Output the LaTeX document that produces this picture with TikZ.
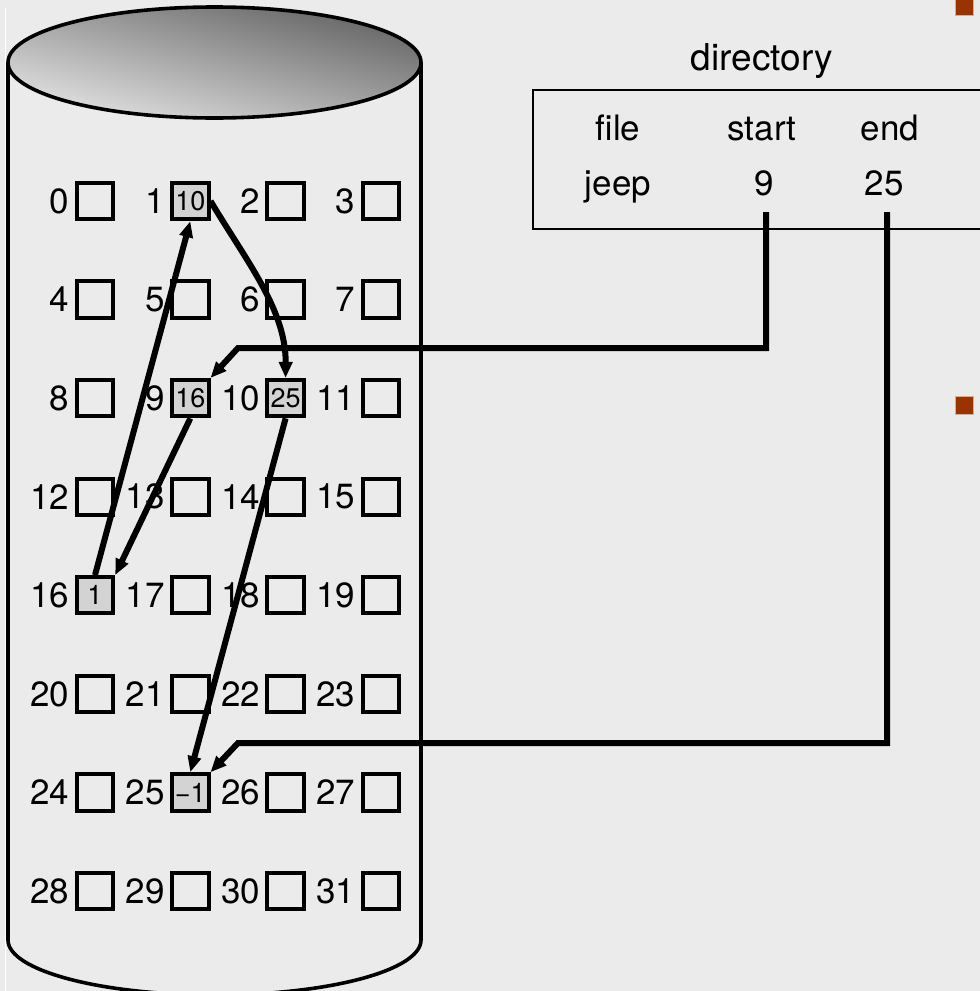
\documentclass[tikz,border=0pt]{standalone}
\usepackage{fontspec}
\setmainfont{TeX Gyre Heros}
\usetikzlibrary{arrows.meta}
\definecolor{pagegray}{RGB}{235,235,235}
\definecolor{blockgray}{RGB}{211,211,211}
\definecolor{diskdark}{RGB}{100,100,100}
\definecolor{disklight}{RGB}{226,226,226}
\definecolor{bulletred}{RGB}{153,51,0}
\newcommand{\minusone}{\char"2212 1}
\tikzset{
	block/.style={draw, line width=2pt, minimum size=18.2pt, inner sep=0pt},
	usedblock/.style={block, fill=blockgray, font=\fontsize{13.5}{13.5}\selectfont},
	blocknum/.style={anchor=east, inner sep=0pt, font=\fontsize{17.5}{17.5}\selectfont},
	dirtext/.style={anchor=base, inner sep=0pt, font=\fontsize{17.5}{17.5}\selectfont},
	ptr/.style={line width=3pt, -{Triangle[length=8pt, width=6.5pt]}},
	bullet/.style={fill=bulletred, draw=bulletred!40!white, line width=0.5pt}
}

\begin{document}
\begin{tikzpicture}[x=0.5pt, y=-0.5pt]
	\useasboundingbox (0, 0) rectangle (980, 991);
	\clip (0, 0) rectangle (980, 991);
	\fill [pagegray] (0, 0) rectangle (980, 991);
	\draw [white, line width=0.5pt] (5, 8) -- (5, 991);
	\draw [line width=1.8pt] (8, 63) -- (8, 940) .. controls (8, 970.4) and (100.5, 995) .. (214.5, 995) .. controls (328.5, 995) and (421, 970.4) .. (421, 940) -- (421, 63);
	\shade [top color=diskdark, bottom color=disklight, shading angle=-15, draw, line width=1.8pt] (214.5, 62.5) ellipse [x radius=206.5, y radius=55.5];
	\foreach \i in {0, ..., 31} {
		\pgfmathtruncatemacro\blockrow{\i / 4}
		\pgfmathtruncatemacro\blockcol{mod(\i, 4)}
		\node [block] (b\i) at (95 + 95.3 * \blockcol, 201 + 98.57 * \blockrow) {};
		\node [blocknum, xshift=-2.5pt] (n\i) at (b\i.west) {\i};
	}
	\foreach \i/\v in {1/10, 9/16, 10/25, 16/1, 25/\minusone} {
		\node [usedblock] (b\i) at (b\i) {\v};
	}
	\draw [line width=1.3pt] (533, 90) rectangle (1000, 229);
	\node [anchor=base, inner sep=0pt, font=\fontsize{18.5}{18.5}\selectfont] (dirtitle) at (762, 70) {directory};
	\node [dirtext] (hfile) at (618, 140) {file};
	\node [dirtext] (hstart) at (762, 140) {start};
	\node [dirtext] (hend) at (890, 140) {end};
	\node [dirtext] (vfile) at (618, 195) {jeep};
	\node [dirtext] (vstart) at (764, 195) {9};
	\node [dirtext] (vend) at (884, 195) {25};
	\coordinate (startptr) at (766, 212);
	\coordinate (endptr) at (887, 212);
	\coordinate (startbend) at (238, 348);
	\coordinate (endbend) at (238, 743);
	\draw [ptr] (startptr) |- (startbend) -- (b9.north east);
	\draw [ptr] (endptr) |- (endbend) -- (b25.north east);
	\draw [ptr] (b9.south) -- (b16.north east);
	\draw [ptr] (b16.north) -- (b1.south);
	\draw [ptr] (b1.east) .. controls (247, 262) and (286, 310) .. (b10.north);
	\draw [ptr] (b10.south) -- (b25.north);
	\draw [bullet] (955, -3) rectangle (973, 15);
	\draw [bullet] (955, 396) rectangle (973, 414);
\end{tikzpicture}
\end{document}
